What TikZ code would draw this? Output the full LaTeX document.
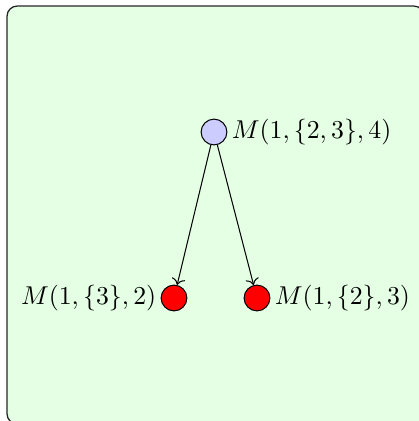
\documentclass[tikz,border=0pt]{standalone}
\usetikzlibrary{arrows.meta}
\begin{document}
\begin{tikzpicture}[x=0.388pt,y=-0.388pt,
  state/.style={circle,draw=black,minimum size=10pt,inner sep=0pt},
  open/.style={state,fill=blue!20},
  done/.style={state,fill=red},
  edge/.style={->,>=To}]
\useasboundingbox (0,0) rectangle (419,421);
\begin{scope}
\clip (0,0) rectangle (419,421);
\draw[fill=green!10,draw=black!85,line width=0.5pt,rounded corners=4pt] (7,6) rectangle (424,424);
\end{scope}
\node[open] (top) at (214,132) {};
\node[done] (l) at (174,298) {};
\node[done] (r) at (257,298) {};
\node[anchor=west,inner sep=1.5pt] (tl) at (top.east) {$M(1,\{2,3\},4)$};
\node[anchor=east,inner sep=1.5pt] (ll) at (l.west) {$M(1,\{3\},2)$};
\node[anchor=west,inner sep=1.5pt] (rl) at (r.east) {$M(1,\{2\},3)$};
\draw[edge] (top) -- (l);
\draw[edge] (top) -- (r);
\end{tikzpicture}
\end{document}
